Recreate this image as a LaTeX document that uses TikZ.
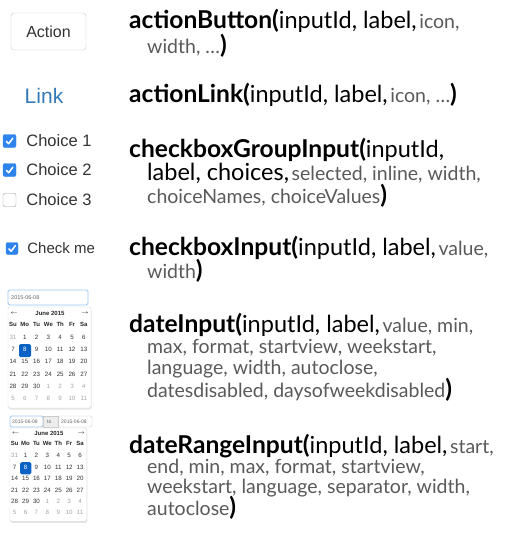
\documentclass[tikz,border=0pt]{standalone}
\usepackage{fontspec}
\setmainfont{Lato}
\newfontfamily\uifont{Liberation Sans}
\usetikzlibrary{positioning,shadows}

\definecolor{optgray}{HTML}{5A5A5A}
\definecolor{linkblue}{HTML}{337AB7}
\definecolor{boxblue}{HTML}{2E84EC}
\definecolor{selblue}{HTML}{0B62C4}
\definecolor{fieldblue}{HTML}{9CC8EE}

\newcommand{\fnname}[1]{{\fontsize{24.6}{26}\selectfont\bfseries #1}}
\newcommand{\argreq}[1]{{\fontsize{23.5}{26}\selectfont #1}}
\newcommand{\argopt}[1]{{\fontsize{19.5}{22}\selectfont\color{optgray}#1}}

\tikzset{sig/.style={anchor=base west,inner sep=0pt}}
\tikzset{btn/.style={draw=black!22,rounded corners=3pt,minimum width=75pt,minimum height=37pt,text=black!80,font=\uifont\fontsize{16}{18}\selectfont}}
\tikzset{cbon/.style={draw=boxblue,fill=boxblue,rounded corners=2pt,minimum size=13pt,inner sep=0pt}}
\tikzset{cboff/.style={draw=black!40,fill=white,rounded corners=2pt,minimum size=13pt,inner sep=0pt}}
\tikzset{tick/.style={white,line width=1.5pt,line cap=round,line join=round}}
\tikzset{cblabel/.style={inner sep=0pt,text=black!80,font=\uifont\fontsize{16.5}{18}\selectfont}}
\tikzset{field/.style={draw=fieldblue,rounded corners=1.5pt,line width=0.8pt}}
\tikzset{fieldtext/.style={inner sep=0pt,anchor=west,text=black!60,font=\uifont\fontsize{5.5}{6}\selectfont}}
\tikzset{dropbox/.style={draw=black!15,fill=white,rounded corners=2pt,drop shadow={opacity=0.2,shadow xshift=0.5pt,shadow yshift=-1.5pt}}}
\tikzset{calhead/.style={inner sep=0pt,text=black!85,font=\uifont\bfseries\fontsize{6}{7}\selectfont}}
\tikzset{calnum/.style={inner sep=0pt,font=\uifont\fontsize{6.2}{7}\selectfont}}

% calendar: name, origin, scale
\newcommand{\drawcal}[3]{%
  \begin{scope}[shift={#2},x=#3pt,y=-#3pt]
    \draw[dropbox] (0,0) rectangle (83,101);
    \node[calhead] (#1-prev) at (6,6) {$\leftarrow$};
    \node[calhead] (#1-month) at (42,6) {June 2015};
    \node[calhead] (#1-next) at (77,6) {$\rightarrow$};
    \foreach \d [count=\c from 0] in {Su,Mo,Tu,We,Th,Fr,Sa}
      \node[calhead] (#1-d\c) at ({5+11.8*\c},17) {\d};
    \fill[selblue,rounded corners=1.5pt] (11,37) rectangle (23,50);
    \foreach \r in {0,...,5}{
      \foreach \c in {0,...,6}{
        \pgfmathtruncatemacro\dn{7*\r+\c}
        \ifnum\dn=0 \def\dtxt{31}\def\dcol{black!35}%
        \else\ifnum\dn>30 \pgfmathtruncatemacro\dtxt{\dn-30}\def\dcol{black!35}%
        \else\let\dtxt\dn\def\dcol{black!80}\fi\fi
        \ifnum\dn=8 \def\dcol{white}\fi
        \node[calnum,text=\dcol] (#1-\r-\c) at ({5+11.8*\c},{30+12.3*\r}) {\dtxt};
      }
    }
  \end{scope}}

\begin{document}
\begin{tikzpicture}[x=1pt,y=-1pt]
  \useasboundingbox[fill=white] (0,0) rectangle (505,539);

  % widgets
  \node[btn] (action) at (48.5,31.5) {Action};
  \node[anchor=base,inner sep=0pt,text=linkblue,font=\uifont\fontsize{21}{24}\selectfont] (link) at (44,103) {Link};

  \foreach \i/\y/\st in {1/141/cbon,2/170/cbon,3/200/cboff}{
    \node[\st] (cb\i) at (9.5,\y) {};
    \node[cblabel,anchor=west,right=10pt of cb\i] (ch\i) {Choice \i};
  }
  \node[cbon,minimum size=12pt] (cbme) at (12,248.5) {};
  \node[cblabel,font=\uifont\fontsize{15}{17}\selectfont,right=9pt of cbme] (chme) {Check me};
  \foreach \b in {cb1,cb2,cbme}
    \draw[tick] ([shift={(-3.2,0.3)}]\b.center) -- ([shift={(-0.8,2.7)}]\b.center) -- ([shift={(3.3,-2.8)}]\b.center);

  % dateInput
  \draw[field] (8,290) rectangle (88,305);
  \node[fieldtext] (dval) at (11,297.5) {2015-06-08};
  \drawcal{cal}{(8,307)}{1}

  % dateRangeInput
  \draw[field] (10,416) rectangle (43,427);
  \node[fieldtext,font=\uifont\fontsize{5}{6}\selectfont] (rval1) at (12,421.5) {2015-06-08};
  \draw[draw=black!20,fill=black!7] (43,416) rectangle (58,427);
  \node[fieldtext,font=\uifont\fontsize{5}{6}\selectfont] (rto) at (47,421.5) {to};
  \draw[draw=black!20,rounded corners=1.5pt] (58,416) rectangle (92,427);
  \node[fieldtext,font=\uifont\fontsize{5}{6}\selectfont] (rval2) at (61,421.5) {2015-06-08};
  \drawcal{rcal}{(10,428)}{0.925}

  % signatures
  \node[sig] (ab1) at (129,28) {\fnname{actionButton(}\argreq{inputId, label,} \argopt{icon,}};
  \node[sig] (ab2) at (147,53) {\argopt{width, …}\fnname{)}};
  \node[sig] (al1) at (129,102) {\fnname{actionLink(}\argreq{inputId, label,} \argopt{icon, …}\fnname{)}};
  \node[sig] (cg1) at (129,157) {\fnname{checkboxGroupInput(}\argreq{inputId,}};
  \node[sig] (cg2) at (147,180) {\argreq{label, choices,} \argopt{selected, inline, width,}};
  \node[sig] (cg3) at (147,203) {\argopt{choiceNames, choiceValues}\fnname{)}};
  \node[sig] (ci1) at (129,255) {\fnname{checkboxInput(}\argreq{inputId, label,} \argopt{value,}};
  \node[sig] (ci2) at (147,278) {\argopt{width}\fnname{)}};
  \node[sig] (di1) at (129,332) {\fnname{dateInput(}\argreq{inputId, label,} \argopt{value, min,}};
  \node[sig] (di2) at (147,353) {\argopt{max, format, startview, weekstart,}};
  \node[sig] (di3) at (147,374) {\argopt{language, width, autoclose,}};
  \node[sig] (di4) at (147,397) {\argopt{datesdisabled, daysofweekdisabled}\fnname{)}};
  \node[sig] (dr1) at (129,453) {\fnname{dateRangeInput(}\argreq{inputId, label,} \argopt{start,}};
  \node[sig] (dr2) at (147,473) {\argopt{end, min, max, format, startview,}};
  \node[sig] (dr3) at (147,493) {\argopt{weekstart, language, separator, width,}};
  \node[sig] (dr4) at (147,515) {\argopt{autoclose}\fnname{)}};
\end{tikzpicture}
\end{document}
